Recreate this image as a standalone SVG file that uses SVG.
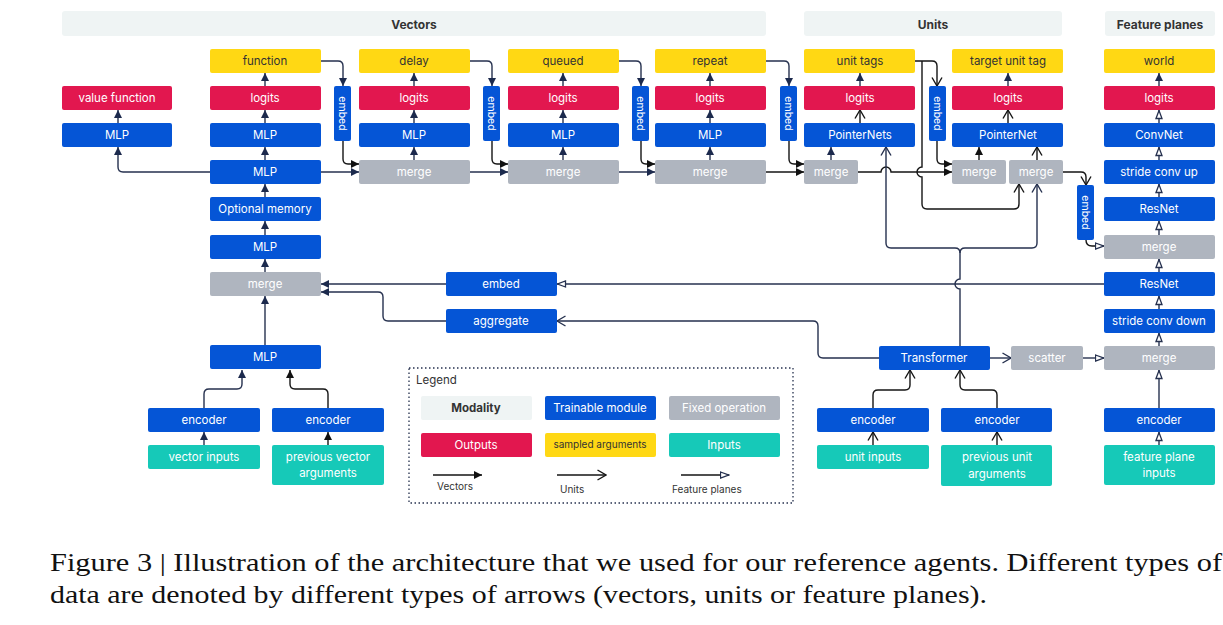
<svg xmlns="http://www.w3.org/2000/svg" width="1223" height="625" viewBox="0 0 1223 625">
<style>
text{font-family:Inter,"Open Sans","Liberation Sans",sans-serif;font-size:11.5px;text-anchor:middle;dominant-baseline:central}
.mod{fill:#eff4f4}
.modt{fill:#333;font-weight:bold;font-size:12px}
.tr{fill:#0555d6}
.out{fill:#e2174f}
.smp{fill:#ffd814}
.fix{fill:#afb5bf}
.inp{fill:#16c9b8}
.w{fill:#fff}
.d{fill:#333}
.v{fill:none;stroke:#26314f;stroke-width:1.4}
.k{fill:none;stroke:#151515;stroke-width:1.4}
.cap{font-family:"Liberation Serif","DejaVu Serif",serif;font-size:25px;text-anchor:start;dominant-baseline:auto;fill:#111}
</style>
<defs>
<marker id="mv" viewBox="0 0 10 10" refX="10" refY="5" markerWidth="8" markerHeight="8" markerUnits="userSpaceOnUse" orient="auto"><path d="M0,0 L10,5 L0,10 z" fill="#1c2a4d"/></marker>
<marker id="mk" viewBox="0 0 10 10" refX="10" refY="5" markerWidth="8" markerHeight="8" markerUnits="userSpaceOnUse" orient="auto"><path d="M0,0 L10,5 L0,10 z" fill="#111"/></marker>
<marker id="mu" viewBox="0 0 10 12" refX="9.5" refY="6" markerWidth="10" markerHeight="12" markerUnits="userSpaceOnUse" orient="auto"><path d="M1,1 L9.5,6 L1,11" fill="none" stroke="#151515" stroke-width="1.4"/></marker>
<marker id="mun" viewBox="0 0 10 12" refX="9.5" refY="6" markerWidth="10" markerHeight="12" markerUnits="userSpaceOnUse" orient="auto"><path d="M1,1 L9.5,6 L1,11" fill="none" stroke="#26314f" stroke-width="1.4"/></marker>
<marker id="mf" viewBox="0 0 10 8" refX="9.5" refY="4" markerWidth="10" markerHeight="8" markerUnits="userSpaceOnUse" orient="auto"><path d="M1,1 L9,4 L1,7 z" fill="#fff" stroke="#26314f" stroke-width="1.3"/></marker>
</defs>

<g id="modalities">
<rect class="mod" x="62" y="11" width="704" height="25" rx="3"/><text class="modt" x="414" y="24">Vectors</text>
<rect class="mod" x="804" y="11" width="258" height="25" rx="3"/><text class="modt" x="933" y="24">Units</text>
<rect class="mod" x="1105" y="11" width="110" height="25" rx="3"/><text class="modt" x="1160" y="24">Feature planes</text>
</g>

<g id="connectors">
<path class="v" d="M210,172 H123 Q118,172 118,167 V147" marker-end="url(#mv)"/>
<path class="v" d="M118,123 V110" marker-end="url(#mv)"/>
<path class="v" d="M265,160 V147" marker-end="url(#mv)"/>
<path class="v" d="M265,123 V110" marker-end="url(#mv)"/>
<path class="v" d="M265,86 V73" marker-end="url(#mv)"/>
<path class="v" d="M265,197 V184" marker-end="url(#mv)"/>
<path class="v" d="M265,235 V221" marker-end="url(#mv)"/>
<path class="v" d="M265,272 V259" marker-end="url(#mv)"/>
<path class="v" d="M265,345 V296" marker-end="url(#mv)"/>
<path class="v" d="M204,408 V394 Q204,389 209,389 H237 Q242,389 242,384 V370" marker-end="url(#mv)"/>
<path class="k" d="M328,408 V394 Q328,389 323,389 H295 Q290,389 290,384 V370" marker-end="url(#mk)"/>
<path class="v" d="M204,445 V432" marker-end="url(#mv)"/>
<path class="k" d="M328,445 V432" marker-end="url(#mk)"/>
<path class="v" d="M321,172 H359" marker-end="url(#mv)"/>
<path class="v" d="M321,61 H338 Q343,61 343,66 V86" marker-end="url(#mv)"/>
<path class="k" d="M343,141 V159 Q343,164 348,164 H359" marker-end="url(#mk)"/>
<path class="v" d="M414,160 V147" marker-end="url(#mv)"/>
<path class="v" d="M414,123 V110" marker-end="url(#mv)"/>
<path class="v" d="M414,86 V73" marker-end="url(#mv)"/>
<path class="v" d="M470,172 H508" marker-end="url(#mv)"/>
<path class="v" d="M470,61 H487 Q492,61 492,66 V86" marker-end="url(#mv)"/>
<path class="k" d="M492,141 V159 Q492,164 497,164 H508" marker-end="url(#mk)"/>
<path class="v" d="M563,160 V147" marker-end="url(#mv)"/>
<path class="v" d="M563,123 V110" marker-end="url(#mv)"/>
<path class="v" d="M563,86 V73" marker-end="url(#mv)"/>
<path class="v" d="M619,172 H655" marker-end="url(#mv)"/>
<path class="v" d="M619,61 H636 Q641,61 641,66 V86" marker-end="url(#mv)"/>
<path class="k" d="M641,141 V159 Q641,164 646,164 H655" marker-end="url(#mk)"/>
<path class="v" d="M710,160 V147" marker-end="url(#mv)"/>
<path class="v" d="M710,123 V110" marker-end="url(#mv)"/>
<path class="v" d="M710,86 V73" marker-end="url(#mv)"/>
<path class="k" d="M766,172 H804" marker-end="url(#mk)"/>
<path class="v" d="M766,61 H784 Q789,61 789,66 V86" marker-end="url(#mv)"/>
<path class="k" d="M789,141 V159 Q789,164 794,164 H804" marker-end="url(#mk)"/>
<path class="v" d="M831,160 V147" marker-end="url(#mv)"/>
<path class="k" d="M860,123 V110" marker-end="url(#mu)"/>
<path class="v" d="M860,86 V73" marker-end="url(#mv)"/>
<path class="k" d="M858,172 H881 A5,5 0 0 1 891,172 H952" marker-end="url(#mk)"/>
<path class="k" d="M915,61 H932 Q937,61 937,66 V86" marker-end="url(#mu)"/>
<path class="k" d="M922,61 V167 A5,5 0 0 0 922,177 V204 Q922,209 927,209 H1014 Q1019,209 1019,204 V184" marker-end="url(#mu)"/>
<path class="k" d="M937,141 V159 Q937,164 942,164 H952" marker-end="url(#mk)"/>
<path class="k" d="M979,160 V147" marker-end="url(#mk)"/>
<path class="k" d="M1037,160 V147" marker-end="url(#mu)"/>
<path class="k" d="M1008,123 V110" marker-end="url(#mu)"/>
<path class="v" d="M1008,86 V73" marker-end="url(#mv)"/>
<path class="v" d="M960,346 V289 A5,5 0 0 1 960,279 V253 Q960,248 955,248 H891 Q886,248 886,243 V147" marker-end="url(#mun)"/>
<path class="v" d="M960,253 Q960,248 965,248 H1032 Q1037,248 1037,243 V184" marker-end="url(#mun)"/>
<path class="k" d="M1063,172 H1081 Q1086,172 1086,177 V185" marker-end="url(#mu)"/>
<path class="k" d="M1086,240 Q1086,246 1092,246 H1104" marker-end="url(#mf)"/>
<path class="v" d="M1159,445 V432" marker-end="url(#mf)"/>
<path class="v" d="M1159,408 V370" marker-end="url(#mf)"/>
<path class="v" d="M1159,346 V333" marker-end="url(#mf)"/>
<path class="v" d="M1159,309 V296" marker-end="url(#mf)"/>
<path class="v" d="M1159,272 V259" marker-end="url(#mf)"/>
<path class="v" d="M1159,235 V221" marker-end="url(#mf)"/>
<path class="v" d="M1159,197 V184" marker-end="url(#mf)"/>
<path class="v" d="M1159,160 V147" marker-end="url(#mf)"/>
<path class="v" d="M1159,123 V110" marker-end="url(#mf)"/>
<path class="v" d="M1159,86 V73" marker-end="url(#mv)"/>
<path class="v" d="M1104,284 H557" marker-end="url(#mf)"/>
<path class="v" d="M446,284 H321" marker-end="url(#mv)"/>
<path class="v" d="M446,321 H388 Q383,321 383,316 V297 Q383,292 378,292 H321" marker-end="url(#mv)"/>
<path class="v" d="M879,358 H823 Q818,358 818,353 V326 Q818,321 813,321 H557" marker-end="url(#mun)"/>
<path class="v" d="M990,358 H1011" marker-end="url(#mun)"/>
<path class="v" d="M1083,358 H1104" marker-end="url(#mf)"/>
<path class="k" d="M873,408 V395 Q873,390 878,390 H905 Q910,390 910,385 V370" marker-end="url(#mu)"/>
<path class="k" d="M997,408 V395 Q997,390 992,390 H965 Q960,390 960,385 V370" marker-end="url(#mu)"/>
<path class="k" d="M873,445 V432" marker-end="url(#mu)"/>
<path class="k" d="M997,445 V432" marker-end="url(#mu)"/>
</g>

<g id="n-value-function"><rect class="out" x="62" y="86" width="110" height="24" rx="2"/><text class="w" x="117" y="98">value function</text></g>
<g id="n-value-mlp"><rect class="tr" x="62" y="123" width="110" height="24" rx="2"/><text class="w" x="117" y="135">MLP</text></g>

<g id="n-function"><rect class="smp" x="210" y="49" width="111" height="24" rx="2"/><text class="d" x="265" y="61">function</text></g>
<g id="n-function-logits"><rect class="out" x="210" y="86" width="111" height="24" rx="2"/><text class="w" x="265" y="98">logits</text></g>
<g id="n-function-mlp"><rect class="tr" x="210" y="123" width="111" height="24" rx="2"/><text class="w" x="265" y="135">MLP</text></g>
<g id="n-core-mlp"><rect class="tr" x="210" y="160" width="111" height="24" rx="2"/><text class="w" x="265" y="172">MLP</text></g>
<g id="n-memory"><rect class="tr" x="210" y="197" width="111" height="24" rx="2"/><text class="w" x="265" y="209">Optional memory</text></g>
<g id="n-mlp2"><rect class="tr" x="210" y="235" width="111" height="24" rx="2"/><text class="w" x="265" y="247">MLP</text></g>
<g id="n-merge-core"><rect class="fix" x="210" y="272" width="111" height="24" rx="2"/><text class="w" x="265" y="284">merge</text></g>
<g id="n-mlp-in"><rect class="tr" x="210" y="345" width="111" height="24" rx="2"/><text class="w" x="265" y="357">MLP</text></g>
<g id="n-enc-vec"><rect class="tr" x="148" y="408" width="112" height="24" rx="2"/><text class="w" x="204" y="420">encoder</text></g>
<g id="n-enc-prev"><rect class="tr" x="272" y="408" width="112" height="24" rx="2"/><text class="w" x="328" y="420">encoder</text></g>
<g id="n-vec-inputs"><rect class="inp" x="148" y="445" width="112" height="24" rx="2"/><text class="w" x="204" y="457">vector inputs</text></g>
<g id="n-prev-vec"><rect class="inp" x="272" y="445" width="112" height="40" rx="2"/><text class="w" x="328" y="457">previous vector</text><text class="w" x="328" y="473">arguments</text></g>

<g id="n-embed1"><rect class="tr" x="334" y="86" width="17" height="55" rx="2"/><text class="w" transform="translate(342.5,113.5) rotate(90)" x="0" y="0" style="font-size:10.5px">embed</text></g>
<g id="n-delay"><rect class="smp" x="359" y="49" width="111" height="24" rx="2"/><text class="d" x="414" y="61">delay</text></g>
<g id="n-delay-logits"><rect class="out" x="359" y="86" width="111" height="24" rx="2"/><text class="w" x="414" y="98">logits</text></g>
<g id="n-delay-mlp"><rect class="tr" x="359" y="123" width="111" height="24" rx="2"/><text class="w" x="414" y="135">MLP</text></g>
<g id="n-delay-merge"><rect class="fix" x="359" y="160" width="111" height="24" rx="2"/><text class="w" x="414" y="172">merge</text></g>

<g id="n-embed2"><rect class="tr" x="483" y="86" width="17" height="55" rx="2"/><text class="w" transform="translate(491.5,113.5) rotate(90)" x="0" y="0" style="font-size:10.5px">embed</text></g>
<g id="n-queued"><rect class="smp" x="508" y="49" width="111" height="24" rx="2"/><text class="d" x="563" y="61">queued</text></g>
<g id="n-queued-logits"><rect class="out" x="508" y="86" width="111" height="24" rx="2"/><text class="w" x="563" y="98">logits</text></g>
<g id="n-queued-mlp"><rect class="tr" x="508" y="123" width="111" height="24" rx="2"/><text class="w" x="563" y="135">MLP</text></g>
<g id="n-queued-merge"><rect class="fix" x="508" y="160" width="111" height="24" rx="2"/><text class="w" x="563" y="172">merge</text></g>

<g id="n-embed3"><rect class="tr" x="632" y="86" width="17" height="55" rx="2"/><text class="w" transform="translate(640.5,113.5) rotate(90)" x="0" y="0" style="font-size:10.5px">embed</text></g>
<g id="n-repeat"><rect class="smp" x="655" y="49" width="111" height="24" rx="2"/><text class="d" x="710" y="61">repeat</text></g>
<g id="n-repeat-logits"><rect class="out" x="655" y="86" width="111" height="24" rx="2"/><text class="w" x="710" y="98">logits</text></g>
<g id="n-repeat-mlp"><rect class="tr" x="655" y="123" width="111" height="24" rx="2"/><text class="w" x="710" y="135">MLP</text></g>
<g id="n-repeat-merge"><rect class="fix" x="655" y="160" width="111" height="24" rx="2"/><text class="w" x="710" y="172">merge</text></g>

<g id="n-embed4"><rect class="tr" x="780" y="86" width="17" height="55" rx="2"/><text class="w" transform="translate(788.5,113.5) rotate(90)" x="0" y="0" style="font-size:10.5px">embed</text></g>
<g id="n-unit-tags"><rect class="smp" x="804" y="49" width="111" height="24" rx="2"/><text class="d" x="860" y="61">unit tags</text></g>
<g id="n-unit-logits"><rect class="out" x="804" y="86" width="111" height="24" rx="2"/><text class="w" x="860" y="98">logits</text></g>
<g id="n-pointernets"><rect class="tr" x="804" y="123" width="111" height="24" rx="2"/><text class="w" x="860" y="135">PointerNets</text></g>
<g id="n-unit-merge"><rect class="fix" x="804" y="160" width="54" height="24" rx="2"/><text class="w" x="831" y="172">merge</text></g>

<g id="n-embed5"><rect class="tr" x="929" y="86" width="17" height="55" rx="2"/><text class="w" transform="translate(937.5,113.5) rotate(90)" x="0" y="0" style="font-size:10.5px">embed</text></g>
<g id="n-target"><rect class="smp" x="952" y="49" width="111" height="24" rx="2"/><text class="d" x="1008" y="61">target unit tag</text></g>
<g id="n-target-logits"><rect class="out" x="952" y="86" width="111" height="24" rx="2"/><text class="w" x="1008" y="98">logits</text></g>
<g id="n-pointernet"><rect class="tr" x="952" y="123" width="111" height="24" rx="2"/><text class="w" x="1008" y="135">PointerNet</text></g>
<g id="n-target-merge1"><rect class="fix" x="952" y="160" width="54" height="24" rx="2"/><text class="w" x="979" y="172">merge</text></g>
<g id="n-target-merge2"><rect class="fix" x="1009" y="160" width="54" height="24" rx="2"/><text class="w" x="1036" y="172">merge</text></g>

<g id="n-embed6"><rect class="tr" x="1077" y="185" width="17" height="55" rx="2"/><text class="w" transform="translate(1085.5,212.5) rotate(90)" x="0" y="0" style="font-size:10.5px">embed</text></g>
<g id="n-world"><rect class="smp" x="1104" y="49" width="111" height="24" rx="2"/><text class="d" x="1159" y="61">world</text></g>
<g id="n-world-logits"><rect class="out" x="1104" y="86" width="111" height="24" rx="2"/><text class="w" x="1159" y="98">logits</text></g>
<g id="n-convnet"><rect class="tr" x="1104" y="123" width="111" height="24" rx="2"/><text class="w" x="1159" y="135">ConvNet</text></g>
<g id="n-conv-up"><rect class="tr" x="1104" y="160" width="111" height="24" rx="2"/><text class="w" x="1159" y="172">stride conv up</text></g>
<g id="n-resnet-up"><rect class="tr" x="1104" y="197" width="111" height="24" rx="2"/><text class="w" x="1159" y="209">ResNet</text></g>
<g id="n-fp-merge-up"><rect class="fix" x="1104" y="235" width="111" height="24" rx="2"/><text class="w" x="1159" y="247">merge</text></g>
<g id="n-resnet-down"><rect class="tr" x="1104" y="272" width="111" height="24" rx="2"/><text class="w" x="1159" y="284">ResNet</text></g>
<g id="n-conv-down"><rect class="tr" x="1104" y="309" width="111" height="24" rx="2"/><text class="w" x="1159" y="321">stride conv down</text></g>
<g id="n-fp-merge-down"><rect class="fix" x="1104" y="346" width="111" height="24" rx="2"/><text class="w" x="1159" y="358">merge</text></g>
<g id="n-fp-encoder"><rect class="tr" x="1104" y="408" width="111" height="24" rx="2"/><text class="w" x="1159" y="420">encoder</text></g>
<g id="n-fp-inputs"><rect class="inp" x="1104" y="445" width="111" height="40" rx="2"/><text class="w" x="1159" y="457">feature plane</text><text class="w" x="1159" y="473">inputs</text></g>

<g id="n-embed-mid"><rect class="tr" x="446" y="272" width="111" height="24" rx="2"/><text class="w" x="501" y="284">embed</text></g>
<g id="n-aggregate"><rect class="tr" x="446" y="309" width="111" height="24" rx="2"/><text class="w" x="501" y="321">aggregate</text></g>
<g id="n-transformer"><rect class="tr" x="879" y="346" width="111" height="24" rx="2"/><text class="w" x="934" y="358">Transformer</text></g>
<g id="n-scatter"><rect class="fix" x="1011" y="346" width="72" height="24" rx="2"/><text class="w" x="1047" y="358">scatter</text></g>
<g id="n-enc-unit"><rect class="tr" x="817" y="408" width="112" height="24" rx="2"/><text class="w" x="873" y="420">encoder</text></g>
<g id="n-enc-prev-unit"><rect class="tr" x="941" y="408" width="111" height="24" rx="2"/><text class="w" x="997" y="420">encoder</text></g>
<g id="n-unit-inputs"><rect class="inp" x="817" y="445" width="112" height="24" rx="2"/><text class="w" x="873" y="457">unit inputs</text></g>
<g id="n-prev-unit"><rect class="inp" x="941" y="445" width="111" height="41" rx="2"/><text class="w" x="997" y="457">previous unit</text><text class="w" x="997" y="474">arguments</text></g>

<g id="legend">
<rect x="409" y="368" width="384" height="135" fill="none" stroke="#26314f" stroke-width="1.3" stroke-dasharray="1.5,2.5"/>
<text x="416" y="380" style="text-anchor:start;fill:#333">Legend</text>
<rect class="mod" x="421" y="396" width="111" height="24" rx="2"/><text class="d" x="476" y="408" style="font-weight:bold">Modality</text>
<rect class="tr" x="545" y="396" width="111" height="24" rx="2"/><text class="w" x="600" y="408">Trainable module</text>
<rect class="fix" x="669" y="396" width="111" height="24" rx="2"/><text class="w" x="724" y="408">Fixed operation</text>
<rect class="out" x="421" y="433" width="111" height="24" rx="2"/><text class="w" x="476" y="445">Outputs</text>
<rect class="smp" x="545" y="433" width="111" height="24" rx="2"/><text class="d" x="600" y="444" style="font-size:10px">sampled arguments</text>
<rect class="inp" x="669" y="433" width="111" height="24" rx="2"/><text class="w" x="724" y="445">Inputs</text>
<path class="k" d="M433,475 H482" marker-end="url(#mk)"/>
<path class="k" d="M557,475 H606" marker-end="url(#mu)"/>
<path class="k" d="M681,475 H729" marker-end="url(#mf)"/>
<text x="437" y="486" style="text-anchor:start;fill:#333;font-size:10px">Vectors</text>
<text x="560" y="489" style="text-anchor:start;fill:#333;font-size:10px">Units</text>
<text x="672" y="489" style="text-anchor:start;fill:#333;font-size:10px">Feature planes</text>
</g>

<g id="caption">
<text class="cap" x="50" y="571" textLength="1172" lengthAdjust="spacingAndGlyphs">Figure 3 | Illustration of the architecture that we used for our reference agents. Different types of</text>
<text class="cap" x="50" y="603" textLength="937" lengthAdjust="spacingAndGlyphs">data are denoted by different types of arrows (vectors, units or feature planes).</text>
</g>
</svg>
